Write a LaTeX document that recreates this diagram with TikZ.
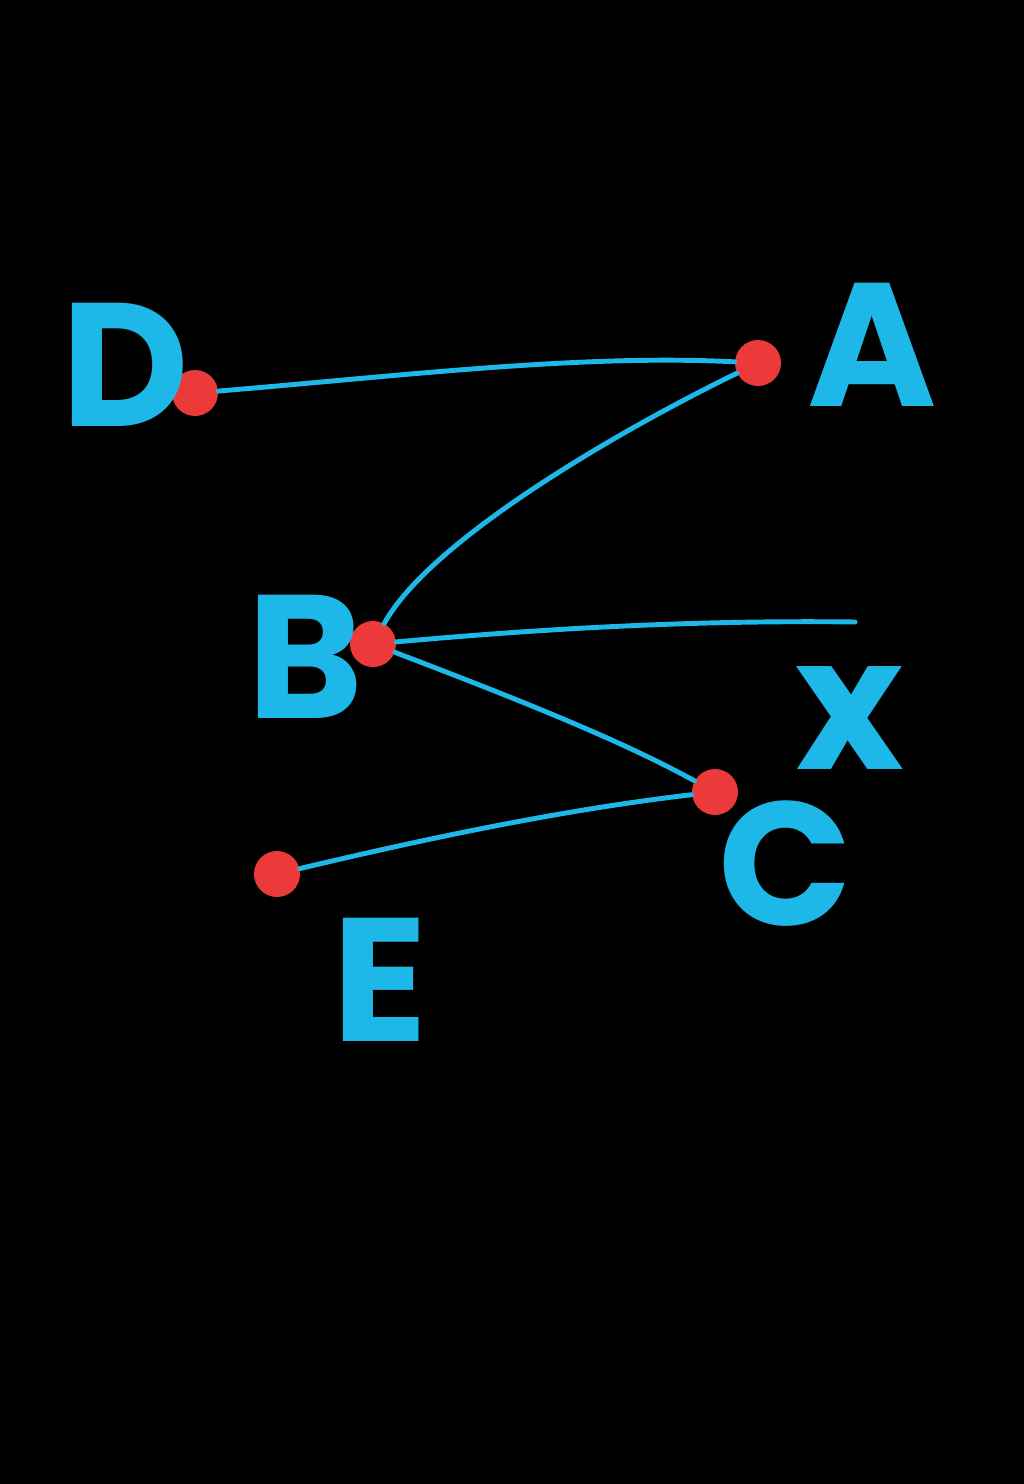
\documentclass[tikz,border=0pt]{standalone}
\usepackage{fontspec}
\setmainfont{Poppins}
\usepackage{tikz}
\usetikzlibrary{positioning}
\definecolor{inkblue}{RGB}{30,184,232}
\definecolor{inkred}{RGB}{236,58,58}

\begin{document}
\begin{tikzpicture}[
        x=0.02cm, y=-0.02cm,
        dot/.style={circle, fill=inkred, minimum size=0.92cm, inner sep=0},
        stroke/.style={inkblue, line width=2.8pt, line cap=round},
        letter/.style={inkblue, inner sep=0, font=\fontsize{100}{100}\selectfont\bfseries}
    ]
        % 背景
        \fill[black] (0,0) rectangle (1024,1484);
        \useasboundingbox (0,0) rectangle (1024,1484);

        % 绘制点
        \foreach \name/\x/\y in {
            D/195/393,
            A/758/363,
            B/373/644,
            C/715/792,
            E/277/874
        } {
            \node[dot] (\name) at (\x,\y) {};
        }
        \coordinate (xend) at (855,622);

        % 绘制标签
        \node[letter] (labD) at (125,365) {D};
        \node[letter] (labA) at (872,345) {A};
        \node[letter] (labB) at (305,657) {B};
        \node[letter, font=\fontsize{105}{105}\selectfont\bfseries] (labx) at (850,718) {x};
        \node[letter] (labC) at (785,864) {C};
        \node[letter] (labE) at (380,980) {E};

        % 绘制连线
        \draw[stroke] (D) .. controls (400,376) and (580,354) .. (A);
        \draw[stroke] (A) .. controls (620,430) and (430,540) .. (B);
        \draw[stroke] (B) .. controls (550,628) and (700,620) .. (xend);
        \draw[stroke] (B) .. controls (520,700) and (620,740) .. (C);
        \draw[stroke] (C) .. controls (560,810) and (420,840) .. (E);
    \end{tikzpicture}
\end{document}
